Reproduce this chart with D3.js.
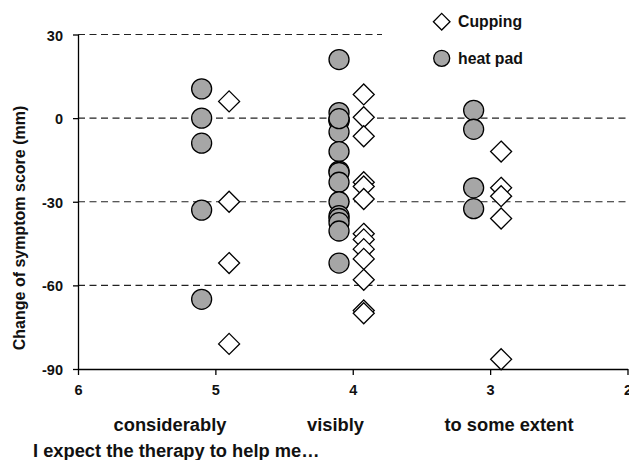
<!DOCTYPE html>
<html><head><meta charset="utf-8">
<script src="https://cdn.jsdelivr.net/npm/d3@7"></script>
<style>
html,body{margin:0;padding:0;background:#fff;}
svg{display:block;font-family:"Liberation Sans",Arial,sans-serif;font-weight:bold;}
</style></head>
<body>
<svg id="chart" width="629" height="460"></svg>
<script>
// ---- data ----
const xTicks = [6, 5, 4, 3, 2];
const yTicks = [-90, -60, -30, 0, 30];
const gridValues = [30, 0, -30, -60];
const categoryLabels = ["considerably", "visibly", "to some extent"];
const seriesNames = ["Cupping", "heat pad"];

const heatPadX = [5.1,5.1,5.1,5.1,5.1,
  4.1,4.1,4.1,4.1,4.1,4.1,4.1,4.1,4.1,4.1,4.1,4.1,4.1,4.1,4.1,4.1,
  3.12,3.12,3.12,3.12];
const heatPadY = [10.5,0,-9,-33,-65,
  21,2,-0.5,-1,-5,-12,-19,-19.5,-23,-30,-35,-36,-37.5,-40.5,-52,-0.2,
  2.8,-4,-25,-32.5];

const cuppingX = [4.9,4.9,4.9,4.9,
  3.92,3.92,3.92,3.92,3.92,3.92,3.92,3.92,3.92,3.92,3.92,3.92,3.92,
  2.92,2.92,2.92,2.92,2.92];
const cuppingY = [6,-30,-52,-81,
  8.5,0.3,-6.5,-23,-24.5,-29,-41.5,-43.5,-47,-50.5,-58,-69,-70,
  -12,-25,-28,-36,-86.5];

// ---- layout ----
const svg = d3.select("#chart");
const x = d3.scaleLinear().domain([6, 2]).range([78, 627.5]);
const y = d3.scaleLinear().domain([-90, 30]).range([369, 34.5]);
const fmt = d => String(d);

// gridlines
svg.append("g").selectAll("line").data(gridValues).join("line")
  .attr("x1", x(6)).attr("x2", x(2))
  .attr("y1", d => y(d)).attr("y2", d => y(d))
  .attr("stroke", "#222").attr("stroke-width", 1.2)
  .attr("stroke-dasharray", "7,4.5");

// y axis
const yAxis = svg.append("g").attr("transform", `translate(${x(6)},0)`)
  .call(d3.axisLeft(y).tickValues(yTicks).tickFormat(fmt).tickSize(5).tickSizeOuter(0).tickPadding(10));
yAxis.selectAll("text").attr("font-size", 14.5).attr("font-family", "Liberation Sans, Arial")
  .attr("font-weight", "bold").attr("fill", "#111").attr("dy", "0.38em");

// x axis
const xAxis = svg.append("g").attr("transform", `translate(0,${y(-90)})`)
  .call(d3.axisBottom(x).tickValues(xTicks).tickFormat(fmt).tickSize(6).tickSizeOuter(0).tickPadding(9.3));
xAxis.selectAll("text").attr("font-size", 14.5).attr("font-family", "Liberation Sans, Arial")
  .attr("font-weight", "bold").attr("fill", "#111");

svg.selectAll(".domain, .tick line").attr("stroke", "#000").attr("stroke-width", 1.3);

// markers
const diamond = (cx, cy, h) => `M${cx},${cy - h}L${cx + h},${cy}L${cx},${cy + h}L${cx - h},${cy}Z`;

svg.append("g").selectAll("path").data(cuppingX.map((v, i) => [v, cuppingY[i]])).join("path")
  .attr("d", d => diamond(x(d[0]), y(d[1]), 10.5))
  .attr("fill", "#fff").attr("stroke", "#000").attr("stroke-width", 1.3);

svg.append("g").selectAll("circle").data(heatPadX.map((v, i) => [v, heatPadY[i]])).join("circle")
  .attr("cx", d => x(d[0])).attr("cy", d => y(d[1])).attr("r", 10)
  .attr("fill", "#a6a6a6").attr("stroke", "#000").attr("stroke-width", 1.3);

// legend
svg.append("rect").attr("x", 382).attr("y", 0).attr("width", 247).attr("height", 76).attr("fill", "#fff");
svg.append("path").attr("d", diamond(441.7, 21.7, 8.3))
  .attr("fill", "#fff").attr("stroke", "#000").attr("stroke-width", 1.3);
svg.append("circle").attr("cx", 441.7).attr("cy", 58.3).attr("r", 8)
  .attr("fill", "#a6a6a6").attr("stroke", "#000").attr("stroke-width", 1.3);
svg.append("text").attr("x", 458).attr("y", 27.3).attr("font-size", 15.8).attr("fill", "#111").text(seriesNames[0]);
svg.append("text").attr("x", 458).attr("y", 64).attr("font-size", 15.8).attr("fill", "#111").text(seriesNames[1]);

// category labels
const catCenters = [170, 335.5, 509];
svg.append("g").selectAll("text").data(categoryLabels).join("text")
  .attr("x", (d, i) => catCenters[i]).attr("y", 431)
  .attr("text-anchor", "middle").attr("font-size", 18.3).attr("fill", "#111").text(d => d);

// axis titles
svg.append("text").attr("transform", "translate(24.5,228) rotate(-90)")
  .attr("text-anchor", "middle").attr("font-size", 16).attr("fill", "#111")
  .text("Change of symptom score (mm)");
svg.append("text").attr("x", 33).attr("y", 457).attr("font-size", 18.3).attr("fill", "#111")
  .text("I expect the therapy to help me…");
</script>
</body></html>
